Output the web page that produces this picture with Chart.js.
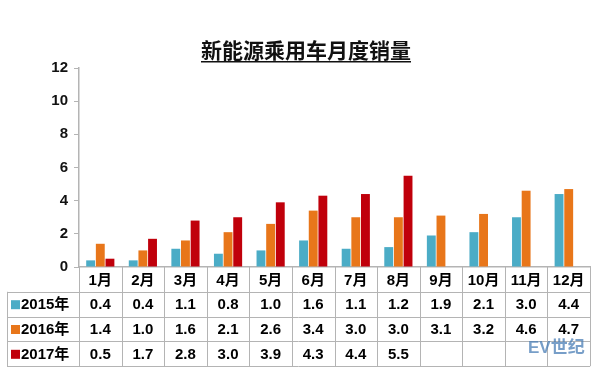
<!DOCTYPE html>
<html>
<head>
<meta charset="utf-8">
<script src="https://cdn.jsdelivr.net/npm/chart.js@4"></script>
<style>
  html, body { margin: 0; padding: 0; background: #fff; }
  #wrap { width: 600px; height: 374px; }
</style>
</head>
<body>
<div id="wrap"><canvas id="salesChart" width="600" height="374"></canvas></div>
<script>
const months = ['1月', '2月', '3月', '4月', '5月', '6月', '7月', '8月', '9月', '10月', '11月', '12月'];
const sales2015 = [0.4, 0.4, 1.1, 0.8, 1.0, 1.6, 1.1, 1.2, 1.9, 2.1, 3.0, 4.4];
const sales2016 = [1.4, 1.0, 1.6, 2.1, 2.6, 3.4, 3.0, 3.0, 3.1, 3.2, 4.6, 4.7];
const sales2017 = [0.5, 1.7, 2.8, 3.0, 3.9, 4.3, 4.4, 5.5, null, null, null, null];
const yTicks = [0, 2, 4, 6, 8, 10, 12];
const chartTitle = '新能源乘用车月度销量';

const FONT = '"Liberation Sans", Arial, "Noto Sans CJK SC", sans-serif';
const lineGrey = '#b4b4b4';

// title with underline, plus the data table under the x axis
const tablePlugin = {
    id: 'dataTable',
    afterDraw(chart) {
        const ctx = chart.ctx;
        const area = chart.chartArea;
        const xs = chart.scales.x;
        const colW = (xs.right - xs.left) / months.length;
        const rowH = 24.8;
        const top = area.bottom;
        const leftEdge = 7;

        ctx.save();
        // title
        ctx.font = 'bold 21px "Noto Sans CJK SC", sans-serif';
        ctx.fillStyle = '#111';
        ctx.textAlign = 'center';
        ctx.textBaseline = 'alphabetic';
        ctx.fillText(chartTitle, 306, 58);
        const tw = ctx.measureText(chartTitle).width;
        ctx.fillRect(306 - tw / 2, 61, tw, 1.5);

        // grid lines of the table
        ctx.strokeStyle = lineGrey;
        ctx.lineWidth = 1;
        ctx.beginPath();
        for (let r = 1; r <= 4; r++) {
            const y = Math.round(top + r * rowH) + 0.5;
            ctx.moveTo(leftEdge, y);
            ctx.lineTo(xs.right, y);
        }
        ctx.moveTo(leftEdge, Math.round(top + rowH) + 0.5);
        for (let c = 0; c <= months.length; c++) {
            const x = Math.round(xs.left + c * colW) + 0.5;
            ctx.moveTo(x, top);
            ctx.lineTo(x, top + 4 * rowH);
        }
        ctx.moveTo(leftEdge + 0.5, top + rowH);
        ctx.lineTo(leftEdge + 0.5, top + 4 * rowH);
        ctx.stroke();

        // cell text
        ctx.font = 'bold 15px ' + FONT;
        ctx.fillStyle = '#000';
        ctx.textAlign = 'center';
        ctx.textBaseline = 'middle';
        months.forEach((m, i) => {
            const cx = xs.getPixelForValue(i);
            ctx.fillText(m, cx, top + rowH * 0.5 + 1);
        });
        chart.data.datasets.forEach((ds, r) => {
            const cy = top + rowH * (r + 1.5) + 1;
            ds.data.forEach((v, i) => {
                if (v === null) return;
                ctx.fillText(v.toFixed(1), xs.getPixelForValue(i), cy);
            });
            // row header with colour key
            ctx.fillStyle = ds.backgroundColor;
            ctx.fillRect(11, cy - 5, 9, 9);
            ctx.fillStyle = '#000';
            ctx.textAlign = 'left';
            ctx.fillText(ds.label, 21, cy);
            ctx.textAlign = 'center';
        });

        // watermark
        ctx.globalAlpha = 0.75;
        ctx.font = 'bold 17px ' + FONT;
        ctx.fillStyle = '#4a7db5';
        ctx.textAlign = 'left';
        ctx.fillText('EV世纪', 528, 348);
        ctx.restore();
    }
};

const ctx = document.getElementById('salesChart').getContext('2d');
const salesChart = new Chart(ctx, {
    type: 'bar',
    data: {
        labels: months,
        datasets: [{
            label: '2015年',
            data: sales2015,
            backgroundColor: '#4bacc6'
        },
        {
            label: '2016年',
            data: sales2016,
            backgroundColor: '#e8761a'
        },
        {
            label: '2017年',
            data: sales2017,
            backgroundColor: '#c0000b'
        }]
    },
    options: {
        responsive: false,
        animation: false,
        layout: {
            padding: { top: 68, right: 10, bottom: 107, left: 0 }
        },
        datasets: {
            bar: {
                categoryPercentage: 0.68,
                barPercentage: 0.92
            }
        },
        plugins: {
            legend: { display: false },
            tooltip: { enabled: false }
        },
        scales: {
            x: {
                ticks: { display: false },
                grid: { display: false },
                border: { color: lineGrey, width: 1.5 },
                afterFit(s) { s.height = 0; }
            },
            y: {
                min: yTicks[0],
                max: yTicks[yTicks.length - 1],
                afterBuildTicks(s) { s.ticks = yTicks.map(v => ({ value: v })); },
                ticks: {
                    color: '#111',
                    padding: 6,
                    font: { family: FONT, size: 15, weight: 'bold' }
                },
                grid: {
                    drawOnChartArea: false,
                    tickLength: 5,
                    color: lineGrey
                },
                border: { color: lineGrey, width: 1.5 },
                afterFit(s) { s.width = 79; }
            }
        }
    },
    plugins: [tablePlugin]
});
</script>
</body>
</html>
